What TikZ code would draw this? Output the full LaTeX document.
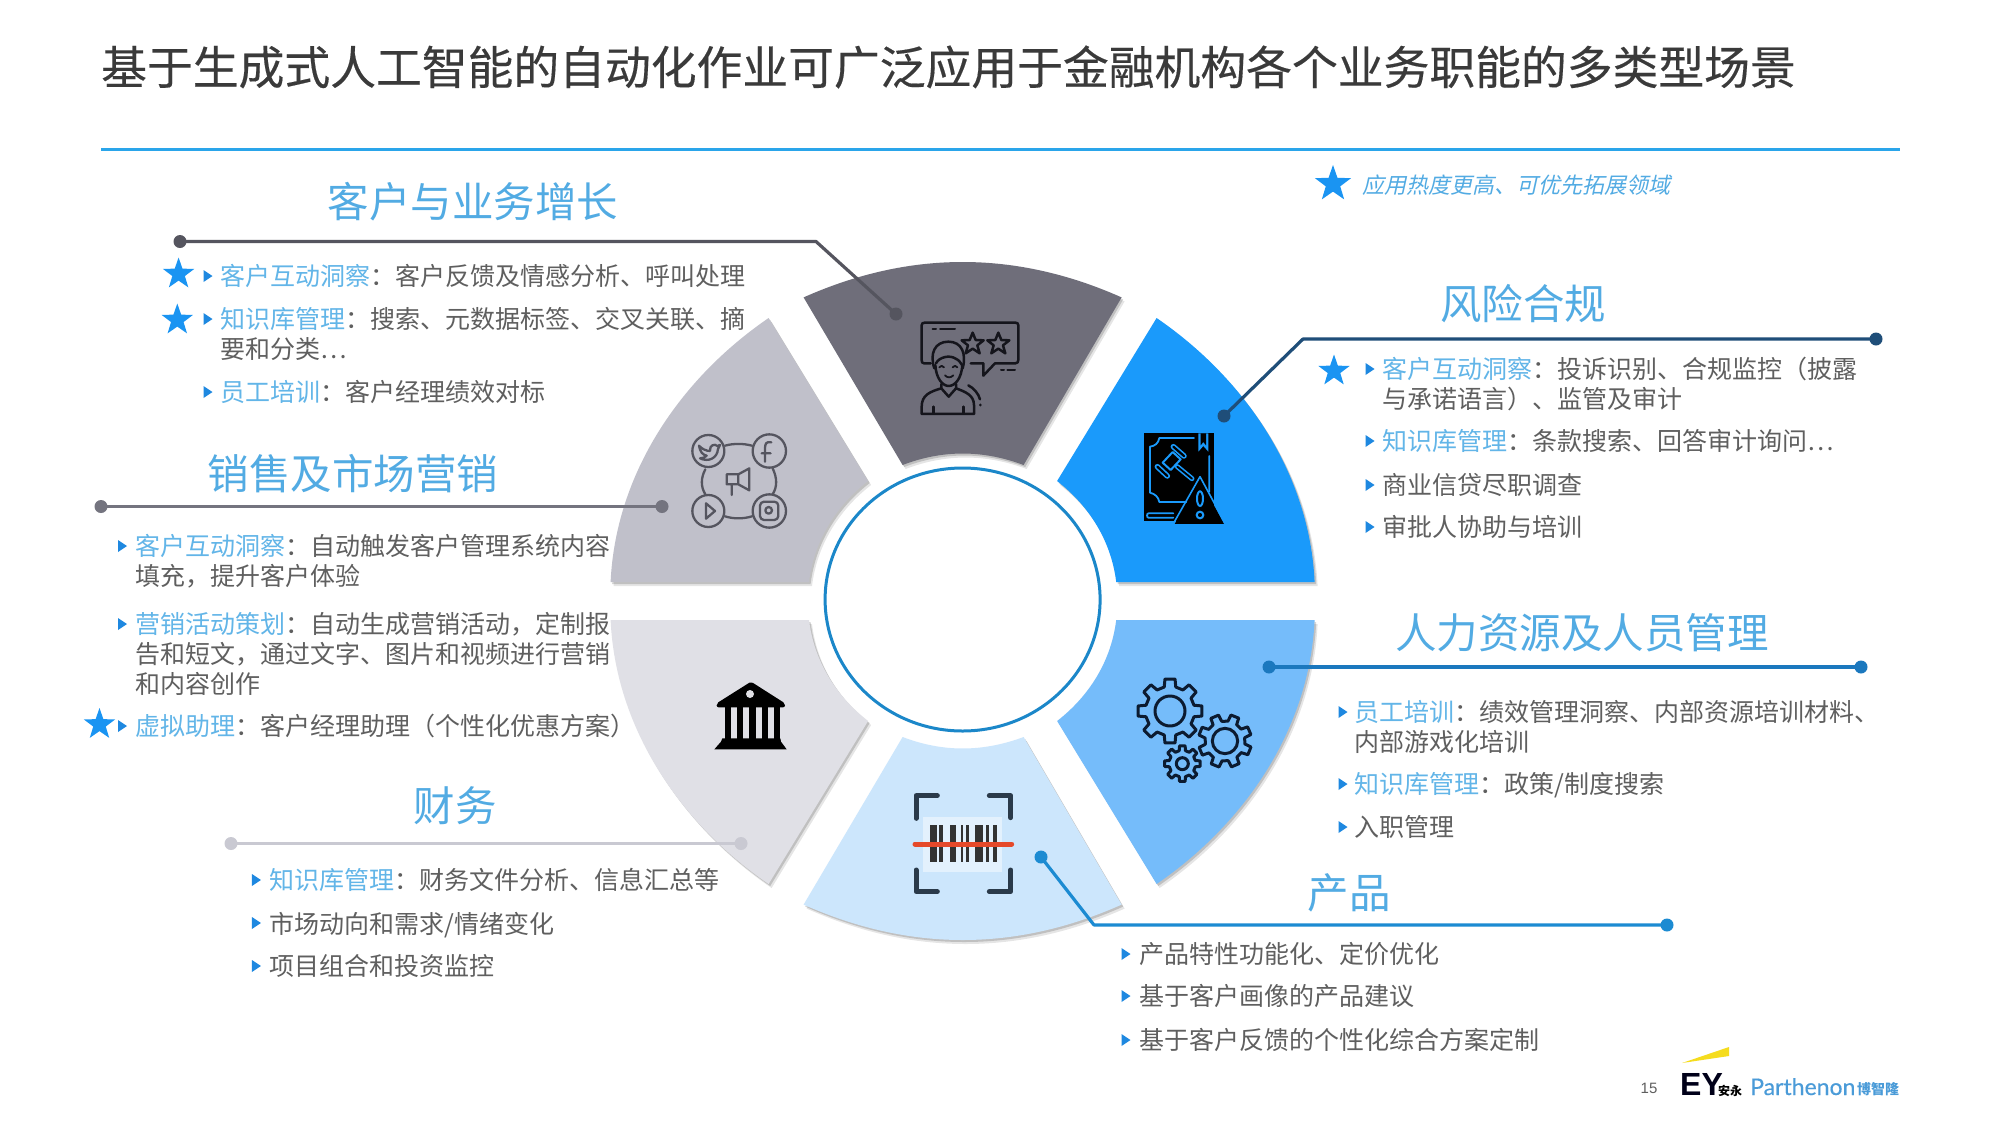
\documentclass[tikz,border=0pt]{standalone}
\usepackage{fontspec}
\setmainfont{Noto Sans CJK SC}
\newfontfamily\titlef[FakeBold=0.35]{Noto Sans CJK SC}
\newfontfamily\slantf[FakeSlant=0.22]{Noto Sans CJK SC}
\newfontfamily\arialf{Liberation Sans}
\newfontfamily\latof[FakeBold=0.25]{Lato}
\usetikzlibrary{shapes.geometric}
\definecolor{tcol}{HTML}{3A3A3A}
\definecolor{bodyc}{HTML}{5F5F5F}
\definecolor{headc}{HTML}{52ABE3}
\definecolor{linkc}{HTML}{62B5E8}
\definecolor{bulc}{HTML}{1E88E0}
\definecolor{starc}{HTML}{1A94F2}
\definecolor{ruleb}{HTML}{2AA5EA}
\definecolor{wtop}{HTML}{6F6E7A}
\definecolor{wblue}{HTML}{1A9AFB}
\definecolor{wmid}{HTML}{75BCFA}
\definecolor{wlight}{HTML}{CCE6FC}
\definecolor{wgray}{HTML}{C0C0CA}
\definecolor{wpale}{HTML}{E0E0E6}
\definecolor{cdark}{HTML}{55555F}
\definecolor{cnavy}{HTML}{1F4E79}
\definecolor{cgray}{HTML}{74747F}
\definecolor{cmid}{HTML}{1B78BE}
\definecolor{cpale}{HTML}{C9C9D2}
\definecolor{cprod}{HTML}{1C8BD2}
\definecolor{ringc}{HTML}{1B87C9}
\definecolor{inkc}{HTML}{15151C}
\definecolor{gearc}{HTML}{0C1B30}
\definecolor{bracc}{HTML}{2A3A4A}
\definecolor{redl}{HTML}{E5492A}
\definecolor{beam}{HTML}{F5DC1E}
\definecolor{parth}{HTML}{4A9BD8}
\tikzset{
  x=1pt,y=-1pt,
  bodytxt/.style={anchor=base west,inner sep=0pt,text=bodyc,align=left,font=\fontsize{25}{30}\selectfont},
  headtxt/.style={anchor=center,inner sep=0pt,text=headc,font=\fontsize{41.5}{48}\selectfont},
  starn/.style={star,star points=5,star point ratio=2.5,fill=starc,inner sep=0pt,minimum size=33pt},
  dotn/.style={circle,inner sep=0pt,minimum size=13pt},
  conn/.style={line width=3.2pt,line join=round},
  ico/.style={line width=2.5pt,line cap=round,line join=round}
}
\newcommand{\lk}[1]{\textcolor{linkc}{#1}}
\newcommand{\bul}[2]{\fill[bulc,shift={(#1,#2)}] (-4.5,-6) -- (4.5,0) -- (-4.5,6) -- cycle;}
\newcommand{\sidew}{(194,-283) .. controls (283,-222) and (347,-127) .. (352,-19) -- (153.6,-19) .. controls (148.6,-60) and (126.7,-95) .. (94.5,-120) -- cycle}
\newcommand{\topw}{(-159,-303.6) .. controls (-53,-350.8) and (53,-350.8) .. (159,-303.6) -- (61,-136) .. controls (20,-151.3) and (-20,-151.3) .. (-60,-136) -- cycle}
\newcommand{\slice}[4]{% path, xs, ys, colour
  \fill[black,opacity=.10,shift={(965.6,605)},xscale=#2,yscale=#3] #1;
  \fill[black,opacity=.16,shift={(964.2,603)},xscale=#2,yscale=#3] #1;
  \fill[#4,shift={(962.6,601)},xscale=#2,yscale=#3] #1;}
\newcommand{\gear}[7]{% cx cy ro ri hole n offset
  \begin{scope}[shift={(#1,#2)}]
  \pgfmathsetmacro{\gst}{360/#6}
  \pgfmathsetmacro{\gnx}{#7+\gst}
  \pgfmathsetmacro{\gla}{#7+360-\gst/2}
  \pgfmathsetmacro{\gta}{\gst*0.20}
  \pgfmathsetmacro{\gtb}{\gst*0.30}
  \draw[ico,gearc,line width=3pt] (#7-\gtb:#4)
    \foreach \a in {#7,\gnx,...,\gla} { -- (\a-\gtb:#4) -- (\a-\gta:#3) -- (\a+\gta:#3) -- (\a+\gtb:#4) } -- cycle;
  \draw[ico,gearc,line width=3pt] (0,0) circle[radius=#5];
  \end{scope}}
\begin{document}
\begin{tikzpicture}
\useasboundingbox (0,0) rectangle (2000,1125);
\fill[white] (0,0) rectangle (2000,1125);

% title
\node[anchor=west,inner sep=0pt,text=tcol,font=\fontsize{45.8}{50}\titlef] (title) at (101,67) {基于生成式人工智能的自动化作业可广泛应用于金融机构各个业务职能的多类型场景};
\coordinate (ra) at (101,149);
\coordinate (rb) at (1900,149);
\draw[ruleb,line width=3pt] (ra) -- (rb);

% legend
\node[starn,minimum size=38pt] (legstar) at (1333,184) {};
\node[anchor=west,inner sep=0pt,text=headc,font=\fontsize{22}{26}\slantf] (legtxt) at (1362,185) {应用热度更高、可优先拓展领域};

% wedges
\slice{\topw}{1}{1}{wtop}
\slice{\sidew}{1}{1}{wblue}
\slice{\sidew}{1}{-1}{wmid}
\slice{\topw}{1}{-1}{wlight}
\slice{\sidew}{-1}{-1}{wpale}
\slice{\sidew}{-1}{1}{wgray}

% ring
\node[ellipse,draw=ringc,line width=3pt,fill=white,inner sep=0pt,minimum width=275pt,minimum height=263pt] (ring) at (962.6,599.5) {};

% connectors
\node[dotn,fill=cdark] (d1a) at (180,241.5) {};
\node[dotn,fill=cdark] (d1b) at (896,314) {};
\coordinate (b1) at (816,241.5);
\draw[conn,cdark] (d1a.center) -- (b1) -- (d1b.center);
\node[dotn,fill=cnavy] (d2a) at (1876,339) {};
\node[dotn,fill=cnavy] (d2b) at (1224,416) {};
\coordinate (b2) at (1303,339);
\draw[conn,cnavy] (d2a.center) -- (b2) -- (d2b.center);
\node[dotn,fill=cgray] (d3a) at (101,506.5) {};
\node[dotn,fill=cgray] (d3b) at (662,506.5) {};
\draw[conn,cgray] (d3a.center) -- (d3b.center);
\node[dotn,fill=cmid] (d4a) at (1269,667) {};
\node[dotn,fill=cmid] (d4b) at (1861,667) {};
\draw[conn,cmid] (d4a.center) -- (d4b.center);
\node[dotn,fill=cpale] (d5a) at (231,843.5) {};
\node[dotn,fill=cpale] (d5b) at (741,843.5) {};
\draw[conn,cpale] (d5a.center) -- (d5b.center);
\node[dotn,fill=cprod] (d6a) at (1041,857) {};
\node[dotn,fill=cprod] (d6b) at (1667,925) {};
\coordinate (b6) at (1094,925);
\draw[conn,cprod] (d6a.center) -- (b6) -- (d6b.center);

% icon: customer
\begin{scope}[shift={(900,310)},x=0.3333pt,y=-0.3333pt]
\draw[ico,inkc] (92,160) -- (72,160) .. controls (66,160) and (65,156) .. (65,150) -- (65,46) .. controls (65,40) and (68,38) .. (74,38) -- (346,38) .. controls (352,38) and (355,40) .. (355,46) -- (355,150) .. controls (355,156) and (352,160) .. (346,160) -- (285,160) -- (250,197) -- (250,160) -- (212,160);
\draw[ico,inkc,line width=2pt] (98,58) -- (108,58) (120,58) -- (165,58) (303,180) -- (312,180) (322,180) -- (345,180);
\foreach \sx in {218,295}{
 \draw[ico,inkc] (\sx,68) -- (\sx+9,90) -- (\sx+33,91) -- (\sx+14,106) -- (\sx+21,130) -- (\sx,116) -- (\sx-21,130) -- (\sx-14,106) -- (\sx-33,91) -- (\sx-9,90) -- cycle;}
\fill[wtop] (145,175) ellipse[x radius=46,y radius=58];
\draw[ico,inkc] (103,175) .. controls (88,130) and (105,95) .. (145,95) .. controls (185,95) and (200,130) .. (188,175);
\draw[ico,inkc] (108,160) .. controls (118,140) and (150,135) .. (165,145) .. controls (175,150) and (182,155) .. (186,165);
\draw[ico,inkc] (106,165) .. controls (108,205) and (128,228) .. (146,228) .. controls (165,228) and (185,205) .. (187,165);
\draw[ico,inkc,line width=1.8pt] (118,172) .. controls (122,166) and (128,166) .. (132,172) (158,172) .. controls (162,166) and (168,166) .. (172,172) (135,196) .. controls (142,204) and (152,204) .. (160,196);
\draw[ico,inkc] (124,222) -- (124,235) -- (146,260) -- (168,235) -- (168,222);
\draw[ico,inkc] (124,235) .. controls (90,245) and (65,255) .. (65,290) -- (65,312) -- (222,312) -- (222,285) .. controls (222,255) and (195,245) .. (168,235);
\draw[ico,inkc] (100,290) -- (100,311) (190,290) -- (190,311);
\draw[ico,inkc] (205,226) .. controls (222,235) and (235,250) .. (240,268) (241,284) -- (241,286);
\end{scope}

% icon: law
\begin{scope}[shift={(1130,420)},x=0.3333pt,y=-0.3333pt]
\fill[black] (42,40) rectangle (252,302);
\draw[wblue,line width=1.8pt,line cap=round,line join=round] (88,54) -- (192,54) (88,54) .. controls (85,70) and (75,78) .. (60,80) -- (60,218) .. controls (75,222) and (85,230) .. (88,246) -- (170,246) (238,108) -- (238,215);
\fill[wblue] (205,40) -- (205,95) -- (220,78) -- (235,95) -- (235,40) -- cycle;
\fill[black] (212,40) -- (212,76) -- (220,66) -- (228,76) -- (228,40) -- cycle;
\draw[wblue,line width=1.8pt,line cap=round] (55,280) -- (130,280) (130,293) -- (55,293) .. controls (50,293) and (50,280) .. (55,280);
\draw[wblue,line width=2pt,line join=round] (128,96) -- (152,118) -- (122,150) -- (98,128) -- cycle;
\draw[wblue,line width=5.5pt,line cap=round] (130,80) -- (162,108);
\draw[black,line width=2.2pt,line cap=round] (130,80) -- (162,108);
\draw[wblue,line width=5.5pt,line cap=round] (82,140) -- (112,168);
\draw[black,line width=2.2pt,line cap=round] (82,140) -- (112,168);
\draw[wblue,line width=5pt,line cap=round] (142,140) -- (186,176);
\draw[black,line width=1.8pt,line cap=round] (142,140) -- (186,176);
\fill[black] (210,178) -- (282,312) -- (134,312) -- cycle;
\draw[wblue,line width=1.6pt,line join=round] (210,170) -- (290,318) -- (126,318) -- cycle;
\draw[wblue,line width=2pt] (210,236) ellipse[x radius=9,y radius=22];
\draw[wblue,line width=2pt] (210,285) circle[radius=10];
\end{scope}

% icon: social
\begin{scope}[shift={(680,425)},x=0.3333pt,y=-0.3333pt,line width=2.3pt,line cap=round,line join=round]
\draw[cdark] (85,78) circle[radius=48] (268,78) circle[radius=50] (85,258) circle[radius=48] (268,258) circle[radius=50];
\draw[cdark] (135,62) .. controls (160,55) and (190,55) .. (216,62);
\draw[cdark] (135,274) .. controls (160,282) and (190,282) .. (216,274);
\draw[cdark] (76,133) .. controls (62,160) and (62,185) .. (76,208);
\draw[cdark] (278,130) .. controls (292,160) and (292,185) .. (278,208);
\draw[cdark] (57,62) .. controls (65,72) and (80,78) .. (90,78) .. controls (88,60) and (105,55) .. (112,63) -- (120,60) -- (114,72) .. controls (112,100) and (85,112) .. (60,100) .. controls (68,100) and (76,97) .. (80,92) .. controls (68,90) and (60,80) .. (57,62) -- cycle;
\draw[cdark] (274,52) .. controls (258,48) and (255,58) .. (255,70) -- (255,110) (245,85) -- (272,85);
\draw[cdark] (78,235) -- (105,258) -- (78,281) -- cycle;
\draw[cdark,rounded corners=4pt] (240,230) rectangle (295,285);
\draw[cdark] (266,256) circle[radius=10];
\draw[cdark] (208,130) -- (208,196) -- (175,178) -- (140,178) -- (140,148) -- (175,148) -- cycle (175,148) -- (175,178) (155,178) -- (155,210);
\end{scope}

% icon: gears
\begin{scope}[shift={(1125,665)},x=0.3333pt,y=-0.3333pt]
\gear{135}{138}{97}{74}{45}{8}{0}
\gear{300}{228}{80}{60}{38}{8}{22}
\gear{172}{296}{54}{40}{18}{8}{0}
\end{scope}

% icon: barcode
\begin{scope}[shift={(900,785)},x=0.3333pt,y=-0.3333pt]
\fill[white,opacity=.45] (70,95) rectangle (305,260);
\foreach \xa/\xb in {90/110,118/130,150/168,184/190,198/208,226/248,258/268,278/290}{
 \fill[black!80] (\xa,120) rectangle (\xb,232);}
\draw[line width=5pt,line cap=round,redl] (45,177) -- (335,177);
\draw[line width=5pt,line cap=round,line join=round,bracc] (48,100) -- (48,32) -- (112,32) (268,32) -- (332,32) -- (332,98) (48,255) -- (48,320) -- (112,320) (268,320) -- (332,320) -- (332,255);
\end{scope}

% icon: bank
\begin{scope}[shift={(705,670)},x=0.3333pt,y=-0.3333pt]
\fill[black,rounded corners=2pt] (138,35) -- (240,100) -- (240,112) -- (35,112) -- (35,100) -- cycle;
\fill[wpale] (135,72) circle[radius=12];
\foreach \xa/\xb in {60/78,97/115,133/152,170/188,208/225}{\fill[black] (\xa,110) rectangle (\xb,207);}
\fill[black] (52,205) -- (226,205) -- (228,215) -- (245,238) -- (28,238) -- (48,215) -- cycle;
\end{scope}

% headings
\node[headtxt] (h1) at (473,202) {客户与业务增长};
\node[headtxt] (h2) at (1523,304) {风险合规};
\node[headtxt] (h3) at (353,474) {销售及市场营销};
\node[headtxt] (h4) at (1582,633) {人力资源及人员管理};
\node[headtxt] (h5) at (455,806) {财务};
\node[headtxt] (h6) at (1349,893) {产品};

% group 1
\node[starn] (s1) at (178.6,274) {};
\node[starn] (s2) at (177.3,320) {};
\bul{208}{276}\node[bodytxt] (t11) at (220.7,285) {\lk{客户互动洞察}：客户反馈及情感分析、呼叫处理};
\bul{208}{319}\node[bodytxt] (t12) at (220.7,358) {\lk{知识库管理}：搜索、元数据标签、交叉关联、摘\\要和分类⋯};
\bul{208}{392}\node[bodytxt] (t13) at (220.7,401) {\lk{员工培训}：客户经理绩效对标};

% group 2
\node[starn] (s3) at (1334,371) {};
\bul{1370}{369}\node[bodytxt] (t21) at (1382.6,408) {\lk{客户互动洞察}：投诉识别、合规监控（披露\\与承诺语言）、监管及审计};
\bul{1370}{441}\node[bodytxt] (t22) at (1382.6,450.8) {\lk{知识库管理}：条款搜索、回答审计询问⋯};
\bul{1370}{485}\node[bodytxt] (t23) at (1382.6,494.2) {商业信贷尽职调查};
\bul{1370}{527}\node[bodytxt] (t24) at (1382.6,536.3) {审批人协助与培训};

% group 3
\bul{122.5}{546}\node[bodytxt] (t31) at (135.2,585.5) {\lk{客户互动洞察}：自动触发客户管理系统内容\\填充，提升客户体验};
\bul{122.5}{624}\node[bodytxt] (t32) at (135.2,693.2) {\lk{营销活动策划}：自动生成营销活动，定制报\\告和短文，通过文字、图片和视频进行营销\\和内容创作};
\node[starn] (s4) at (99.5,724.5) {};
\bul{122.5}{726}\node[bodytxt] (t33) at (135.2,735.3) {\lk{虚拟助理}：客户经理助理（个性化优惠方案）};

% group 4
\bul{1343}{712}\node[bodytxt] (t41) at (1354.6,751.2) {\lk{员工培训}：绩效管理洞察、内部资源培训材料、\\内部游戏化培训};
\bul{1343}{784}\node[bodytxt] (t42) at (1354.6,793.9) {\lk{知识库管理}：政策/制度搜索};
\bul{1343}{827}\node[bodytxt] (t43) at (1354.6,836) {入职管理};

% group 5
\bul{256.4}{880}\node[bodytxt] (t51) at (269,889.5) {\lk{知识库管理}：财务文件分析、信息汇总等};
\bul{256.4}{923}\node[bodytxt] (t52) at (269,933) {市场动向和需求/情绪变化};
\bul{256.4}{966}\node[bodytxt] (t53) at (269,975.1) {项目组合和投资监控};

% group 6
\bul{1126}{954}\node[bodytxt] (t61) at (1139,963.5) {产品特性功能化、定价优化};
\bul{1126}{996}\node[bodytxt] (t62) at (1139,1005.5) {基于客户画像的产品建议};
\bul{1126}{1040}\node[bodytxt] (t63) at (1139,1049) {基于客户反馈的个性化综合方案定制};

% footer
\node[anchor=center,inner sep=0pt,text=bodyc,font=\fontsize{15}{17}\arialf] (pg) at (1649,1088) {15};
\fill[beam] (1682,1063) -- (1729,1047) -- (1729,1056) -- cycle;
\node[anchor=base west,inner sep=0pt,text=black!90!blue,font=\fontsize{32}{34}\arialf\bfseries] (ey) at (1680,1095) {EY};
\node[anchor=base west,inner sep=0pt,text=black,font=\fontsize{12}{14}\selectfont\bfseries] (an) at (1718,1095) {安永};
\node[anchor=base west,inner sep=0pt,text=parth,font=\fontsize{23}{26}\latof] (par) at (1750,1095) {Parthenon};
\node[anchor=base west,inner sep=0pt,text=parth,font=\fontsize{14}{16}\selectfont\bfseries] (bo) at (1857,1094) {博智隆};
\end{tikzpicture}
\end{document}
